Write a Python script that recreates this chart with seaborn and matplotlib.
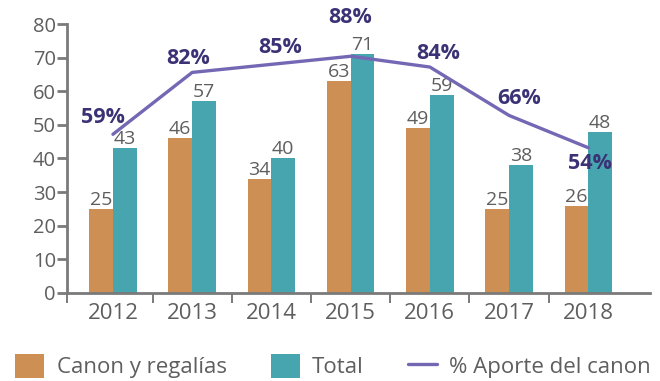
import numpy as np
import pandas as pd
import matplotlib
matplotlib.use("Agg")
import matplotlib.pyplot as plt
from matplotlib.patches import Patch
from matplotlib.lines import Line2D
import seaborn as sns

years = ["2012", "2013", "2014", "2015", "2016", "2017", "2018"]
canon = [25, 46, 34, 63, 49, 25, 26]
total = [43, 57, 40, 71, 59, 38, 48]
aporte = [59, 82, 85, 88, 84, 66, 54]
series_names = ["Canon y regalías", "Total"]
line_name = "% Aporte del canon"

ORANGE = "#CE8F55"
TEAL = "#46A5AE"
LINE = "#7467B4"
PCT_TXT = "#3B3275"
GRAY_TXT = "#5E5E5E"
AXIS = "#7A7A7A"

sns.set_theme(style="white")
plt.rcParams["font.family"] = ["Open Sans", "DejaVu Sans"]

df = pd.DataFrame({
    "year": years * 2,
    "serie": [series_names[0]] * len(years) + [series_names[1]] * len(years),
    "value": canon + total,
})

XMIN, XMAX = -0.58, 6.78

fig = plt.figure(figsize=(6.6, 3.81), dpi=100)
ax = fig.add_axes([0.1015, 0.231, 0.8835, 0.706])

sns.barplot(data=df, x="year", y="value", hue="serie", order=years,
            hue_order=series_names, palette=[ORANGE, TEAL], width=0.6,
            saturation=1, linewidth=0, edgecolor="none", ax=ax, legend=False)

for cont in ax.containers:
    ax.bar_label(cont, fmt="%d", padding=0, fontsize=14, color=GRAY_TXT)

ax.set_ylim(0, 80)
ax.set_xlim(XMIN, XMAX)
ax.set_yticks(range(0, 81, 10))
ax.set_xlabel("")
ax.set_ylabel("")
ax.tick_params(axis="y", length=7, width=2, color=AXIS, labelsize=14.5,
               labelcolor=GRAY_TXT, pad=1, left=True)
ax.tick_params(axis="x", length=0, labelsize=16, labelcolor=GRAY_TXT, pad=7)
ax.set_xticks([XMIN] + list(np.arange(0.5, 6.0, 1.0)), minor=True)
ax.tick_params(axis="x", which="minor", length=7, width=1.4, color=AXIS,
               bottom=True, direction="out")
for s in ["top", "right"]:
    ax.spines[s].set_visible(False)
for s in ["left", "bottom"]:
    ax.spines[s].set_color(AXIS)
    ax.spines[s].set_linewidth(2)

# percentage contribution on a hidden 0-100 scale
ax2 = ax.twinx()
sns.lineplot(x=np.arange(len(years)), y=aporte, color=LINE, linewidth=2.4,
             ax=ax2)
ax2.set_ylim(0, 100)
ax2.set_xlim(XMIN, XMAX)
ax2.axis("off")

offsets = [(-7, 12), (-3, 10), (6, 12), (0, 28), (6, 10), (7, 12), (1, -11)]
for i, (p, off) in enumerate(zip(aporte, offsets)):
    ax2.annotate(f"{p}%", (i, p), xytext=off, textcoords="offset points",
                 ha="center", va="center", fontsize=15.5, fontweight="bold",
                 color=PCT_TXT)

handles = [
    Patch(facecolor=ORANGE, edgecolor="none", label=series_names[0]),
    Patch(facecolor=TEAL, edgecolor="none", label=series_names[1]),
    Line2D([0], [0], color=LINE, linewidth=2.4, label=line_name),
]
fig.legend(handles=handles, loc="lower center", bbox_to_anchor=(0.505, -0.005),
           ncol=3, frameon=False, fontsize=16, labelcolor=GRAY_TXT,
           handlelength=1.3, handleheight=1.3, handletextpad=0.55,
           columnspacing=2.0, borderaxespad=0, borderpad=0.2)

fig.savefig("out.png", dpi=100)
